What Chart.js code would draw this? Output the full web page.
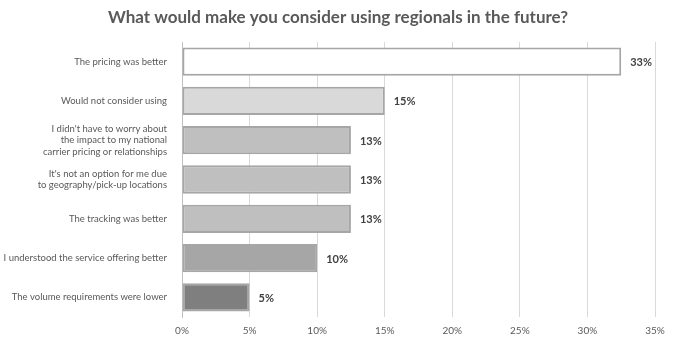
<!DOCTYPE html>
<html>
<head>
<meta charset="utf-8">
<script src="https://cdn.jsdelivr.net/npm/chart.js@4"></script>
<style>
  html, body { margin: 0; padding: 0; background: #fff; }
  #wrap { width: 676px; height: 346px; }
</style>
</head>
<body>
<div id="wrap"><canvas id="chart" width="676" height="346"></canvas></div>
<script>
// Survey answers, top to bottom
const categories = [
  'The pricing was better',
  'Would not consider using',
  ["I didn't have to worry about", 'the impact to my national', 'carrier pricing or relationships'],
  ["It's not an option for me due", 'to geography/pick-up locations'],
  'The tracking was better',
  'I understood the service offering better',
  'The volume requirements were lower'
];
const values = [32.5, 15, 12.5, 12.5, 12.5, 10, 5];
const valueLabels = ['33%', '15%', '13%', '13%', '13%', '10%', '5%'];
const barColors = ['#ffffff', '#d9d9d9', '#bfbfbf', '#bfbfbf', '#bfbfbf', '#a6a6a6', '#7f7f7f'];
const tickValues = [0, 5, 10, 15, 20, 25, 30, 35];
const titleText = 'What would make you consider using regionals in the future?';

const FONT = 'Lato, "Open Sans", sans-serif';

// title centred on the whole canvas, value labels at the bar ends
const extras = {
  id: 'extras',
  afterDatasetsDraw(chart) {
    const ctx = chart.ctx;
    const meta = chart.getDatasetMeta(0);
    ctx.save();
    ctx.font = 'bold 11px ' + FONT;
    ctx.fillStyle = '#404040';
    ctx.textBaseline = 'middle';
    ctx.textAlign = 'left';
    meta.data.forEach((bar, i) => {
      ctx.fillText(valueLabels[i], bar.x + 9, bar.y + 1);
    });
    ctx.font = 'bold 17px ' + FONT;
    ctx.fillStyle = '#595959';
    ctx.textAlign = 'center';
    ctx.fillText(titleText, chart.width / 2, 18);
    ctx.restore();
  }
};

new Chart(document.getElementById('chart'), {
  type: 'bar',
  data: {
    labels: categories,
    datasets: [{
      data: values,
      backgroundColor: barColors,
      borderColor: '#a6a6a6',
      borderWidth: 2,
      borderSkipped: false,
      categoryPercentage: 0.72,
      barPercentage: 1
    }]
  },
  options: {
    indexAxis: 'y',
    responsive: false,
    animation: false,
    layout: { padding: { top: 42, right: 21, bottom: 1, left: 0 } },
    plugins: {
      legend: { display: false },
      tooltip: { enabled: false },
      title: { display: false }
    },
    scales: {
      x: {
        min: 0,
        max: 35,
        afterBuildTicks(axis) { axis.ticks = tickValues.map(v => ({ value: v })); },
        grid: { color: '#d9d9d9', lineWidth: 1, drawTicks: false },
        border: { display: false },
        ticks: {
          color: '#595959',
          font: { family: FONT, size: 10 },
          padding: 8,
          callback: v => v + '%'
        }
      },
      y: {
        grid: { display: false },
        border: { display: true, color: '#bfbfbf', width: 1 },
        afterFit(axis) { axis.width = 182; },
        ticks: {
          color: '#595959',
          font: { family: FONT, size: 9.5 },
          padding: 7,
          autoSkip: false
        }
      }
    }
  },
  plugins: [extras]
});
</script>
</body>
</html>
